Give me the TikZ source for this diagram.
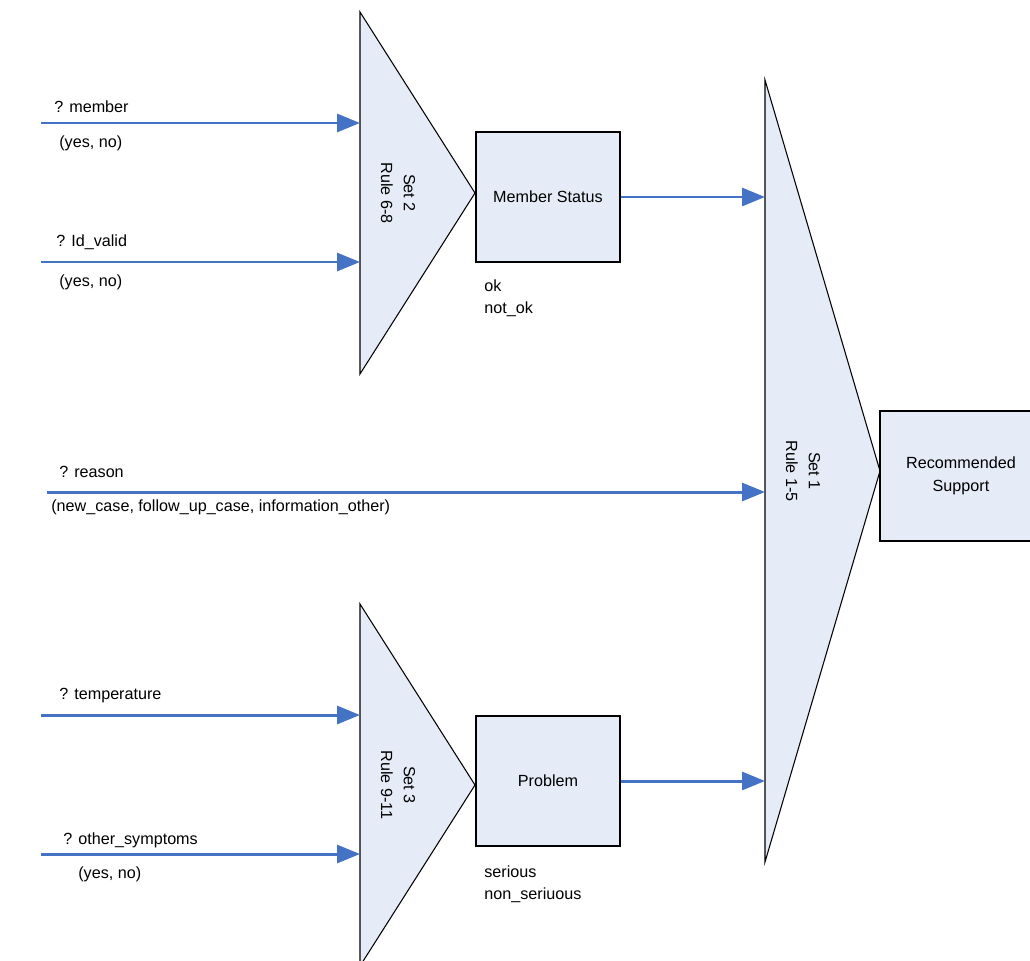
\documentclass[tikz,border=0pt]{standalone}
\usepackage{fontspec}
\setmainfont{Liberation Sans}
\usetikzlibrary{positioning,arrows.meta}
\definecolor{setFill}{RGB}{230,236,247}
\definecolor{arrowColor}{RGB}{68,114,196}
\tikzstyle{diagram} = [x = 0.02cm, y = -0.02cm, every node/.style={font=\fontsize{9.2}{13}\selectfont}]
\tikzstyle{setStyle} = [draw=black, fill=setFill, line width=0.6pt]
\tikzstyle{setText} = [rotate=-90, align=center, inner sep=0]
\tikzstyle{boxStyle} = [draw=black, fill=setFill, line width=0.6pt, minimum width=2.88cm, minimum height=2.6cm, inner sep=0, align=center]
\tikzstyle{inArrow} = [draw=arrowColor, line width=1.7pt, -{Triangle[length=0.46cm, width=0.36cm]}]
\tikzstyle{inputText} = [anchor=west, inner sep=0]
\tikzstyle{valueText} = [anchor=north west, inner sep=0, align=left]
\newcommand{\ruleSet}[6]{\filldraw [setStyle] (#2,#3) coordinate (#1 top) -- ++(#4,#5) coordinate (#1 tip) -- ++(-#4,#5) coordinate (#1 bottom) -- cycle; \node [setText] (#1 label) at (#2 + 38, #3 + #5) {#6};}
\newcommand{\questionInput}[4]{\coordinate (#1) at (#2,#3); \draw [inArrow] (#1) -- (#1 -| #4 top);}

\begin{document}
\begin{tikzpicture}[diagram]
  \useasboundingbox (0,0) rectangle (1030,960);
  % rule sets
  \ruleSet{set2}{360}{12}{115}{181}{Set 2\\Rule 6-8}
  \ruleSet{set3}{360}{604}{115}{181}{Set 3\\Rule 9-11}
  \ruleSet{set1}{765}{80}{115}{391}{Set 1\\Rule 1-5}
  % results
  \node [boxStyle] (status) at (548,197) {Member Status};
  \node [boxStyle] (problem) at (548,781) {Problem};
  \filldraw [setStyle, overlay] (880,411) rectangle (1060,541);
  \node [inner sep=0, align=center] (support) at (961,476) {Recommended\\Support};
  \node [valueText] (statusValues) at (484,279) {ok\\not\_ok};
  \node [valueText] (problemValues) at (484,865) {serious\\non\_seriuous};
  % questions
  \questionInput{member}{41}{123}{set2}
  \questionInput{idValid}{41}{262}{set2}
  \questionInput{reason}{47}{492}{set1}
  \questionInput{temperature}{41}{715}{set3}
  \questionInput{symptoms}{41}{854}{set3}
  \node [inputText] (memberLabel) at (54,107) {? member};
  \node [inputText] (memberValues) at (59,143) {(yes, no)};
  \node [inputText] (idValidLabel) at (56,242) {? Id\_valid};
  \node [inputText] (idValidValues) at (59,282) {(yes, no)};
  \node [inputText] (reasonLabel) at (59,472) {? reason};
  \node [inputText] (reasonValues) at (51,507) {(new\_case, follow\_up\_case, information\_other)};
  \node [inputText] (temperatureLabel) at (59,696) {? temperature};
  \node [inputText] (symptomsLabel) at (63,840) {? other\_symptoms};
  \node [inputText] (symptomsValues) at (78,874) {(yes, no)};
  % results into set 1
  \draw [inArrow] (status.east) -- (status.east -| set1 top);
  \draw [inArrow] (problem.east) -- (problem.east -| set1 top);
\end{tikzpicture}
\end{document}
